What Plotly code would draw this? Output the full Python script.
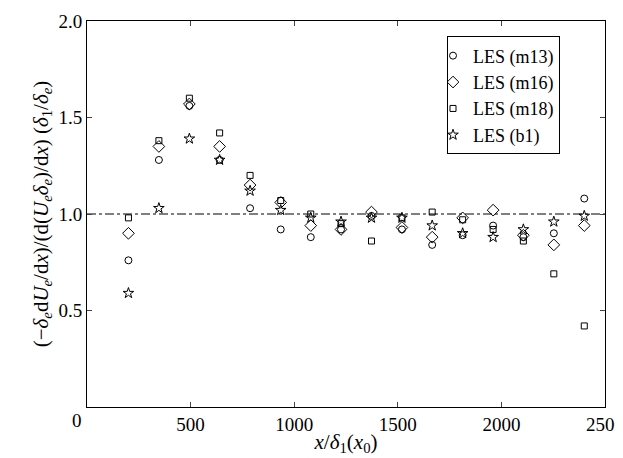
import plotly.graph_objects as go

x_pos = [200, 347, 494, 640, 787, 935, 1080, 1226, 1373, 1520, 1666, 1813, 1960, 2106, 2253, 2400]
m13 = [0.76, 1.28, 1.56, 1.28, 1.03, 0.92, 0.88, 0.92, 0.99, 0.92, 0.84, 0.89, 0.94, 0.88, 0.90, 1.08]
m16 = [0.90, 1.35, 1.57, 1.35, 1.15, 1.06, 0.94, 0.92, 1.01, 0.93, 0.88, 0.98, 1.02, 0.89, 0.84, 0.94]
m18 = [0.98, 1.38, 1.60, 1.42, 1.20, 1.07, 1.00, 0.95, 0.86, 0.98, 1.01, 0.97, 0.92, 0.86, 0.69, 0.42]
b1 = [0.59, 1.03, 1.39, 1.28, 1.12, 1.02, 0.98, 0.96, 0.98, 0.98, 0.94, 0.90, 0.88, 0.92, 0.96, 0.99]

series = [("LES (m13)", m13, "circle-open", 7),
          ("LES (m16)", m16, "diamond-open", 9),
          ("LES (m18)", m18, "square-open", 6),
          ("LES (b1)", b1, "star-open", 8)]

x_ticks = [500, 1000, 1500, 2000, 2500]
y_ticks = [0.5, 1.0, 1.5, 2.0]
y_labels = ["0.5", "1.0", "1.5", "2.0"]
ref_line_x = [0, 2500]
ref_line_y = [1.0, 1.0]

FONT = "Liberation Serif"
fig = go.Figure()
fig.add_trace(go.Scatter(x=ref_line_x, y=ref_line_y, mode="lines",
                         line=dict(color="black", width=1, dash="dashdot"),
                         showlegend=False, hoverinfo="skip"))
for name, vals, sym, sz in series:
    fig.add_trace(go.Scatter(x=x_pos, y=vals, mode="markers", name=name,
                             marker=dict(symbol=sym, size=sz, color="black",
                                         line=dict(color="black", width=1))))

fig.update_layout(
    template="none",
    width=623, height=458,
    margin=dict(l=79, r=26, t=13, b=59, autoexpand=False),
    plot_bgcolor="white", paper_bgcolor="white",
    font=dict(family=FONT, size=19, color="black"),
    showlegend=True,
    legend=dict(x=0.695, y=0.96, xanchor="left", yanchor="top",
                bordercolor="black", borderwidth=1, bgcolor="white",
                font=dict(family=FONT, size=18), itemsizing="trace",
                tracegroupgap=0, itemwidth=30, indentation=-15),
    xaxis=dict(range=[0, 2500], tickvals=x_ticks, ticks="inside", ticklen=5,
               showline=True, linecolor="black", linewidth=1, mirror="ticks",
               showgrid=False, zeroline=False, automargin=False,
               tickfont=dict(family=FONT, size=19),
               title=dict(text="<i>x</i>/<i>δ</i><sub>1</sub>(<i>x</i><sub>0</sub>)",
                          font=dict(family=FONT, size=21), standoff=0)),
    yaxis=dict(range=[0, 2.0], tickvals=y_ticks, ticktext=y_labels,
               ticks="inside", ticklen=5,
               showline=True, linecolor="black", linewidth=1, mirror="ticks",
               showgrid=False, zeroline=False, automargin=False,
               tickfont=dict(family=FONT, size=19),
               title=dict(text="(−<i>δ</i><sub><i>e</i></sub>d<i>U</i><sub><i>e</i></sub>/d<i>x</i>)/(d(<i>U</i><sub><i>e</i></sub><i>δ</i><sub><i>e</i></sub>)/d<i>x</i>) (<i>δ</i><sub>1</sub>/<i>δ</i><sub><i>e</i></sub>)",
                          font=dict(family=FONT, size=21), standoff=4)),
)
fig.add_annotation(text="0", xref="paper", yref="paper", x=-0.02, y=-0.035,
                   xanchor="center", yanchor="middle", showarrow=False,
                   font=dict(family=FONT, size=19))
fig.write_html("out.html")
